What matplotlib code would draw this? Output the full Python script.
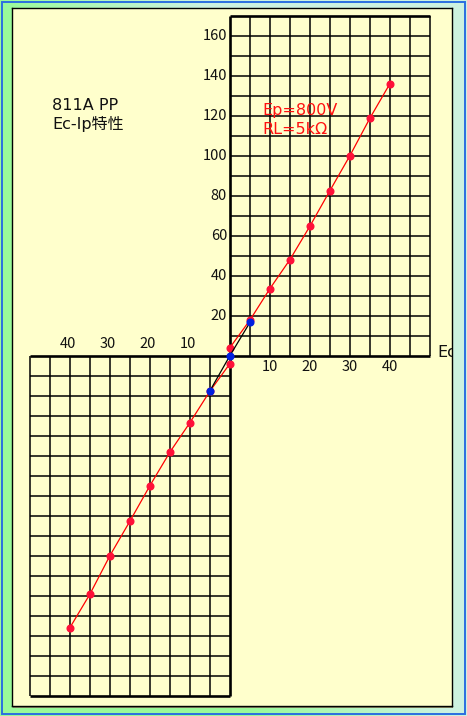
import numpy as np
import matplotlib
matplotlib.use("Agg")
import matplotlib.pyplot as plt
from matplotlib.patches import Rectangle

plt.rcParams['font.family'] = ['Noto Sans CJK JP', 'DejaVu Sans']

# ---- data ----
ec_red = [-40, -35, -30, -25, -20, -15, -10, -5, 0, 0, 5, 10, 15, 20, 25, 30, 35, 40]
ip_red = [-136, -119.25, -100, -82.75, -65, -48.25, -33.5, -17.75, -4,
          4, 17.75, 33.5, 48, 64.75, 82.5, 100, 118.75, 136]
ec_blue = [-5, 0, 5]
ip_blue = [-17.6, 0, 16.6]
y_ticks = [20, 40, 60, 80, 100, 120, 140, 160]
x_ticks_pos = [10, 20, 30, 40]
x_ticks_neg = [-40, -30, -20, -10]
title_lines = ["811A PP", "Ec-Ip特性"]
cond_lines = ["Ep=800V", "RL=5kΩ"]

W, H = 467, 716
fig = plt.figure(figsize=(W / 100, H / 100), dpi=100)

# background gradient
bg = fig.add_axes([0, 0, 1, 1])
bg.set_axis_off()
xx, yy = np.meshgrid(np.arange(W), np.arange(H))
s = np.clip((xx - 0.35 * yy) / 200.0, 0, 1)
c0 = np.array([0.60, 0.98, 0.60])
c1 = np.array([0.80, 0.95, 0.88])
img = c0[None, None, :] * (1 - s[..., None]) + c1[None, None, :] * s[..., None]
bg.imshow(img, extent=[0, W, H, 0], aspect='auto')
bg.set_xlim(0, W)
bg.set_ylim(H, 0)
bg.add_patch(Rectangle((1.5, 1.5), W - 3.5, H - 3.5, fill=False,
                       edgecolor='#2a6fe0', linewidth=1.4))
bg.add_patch(Rectangle((13, 707), 440, 1.2, color='#888866', lw=0))

# main panel
ax = fig.add_axes([12 / W, 1 - 706 / H, 440 / W, 698 / H])
ax.set_facecolor('#FFFFCC')
ax.set_xlim(-54.5, 55.5)
ax.set_ylim(-175.25, 173.75)
ax.set_xticks([])
ax.set_yticks([])
for sp in ax.spines.values():
    sp.set_linewidth(1.0)
    sp.set_color('black')

glw = 1.1
tlw = 1.9
# upper-right grid
ax.vlines(np.arange(5, 51, 5), 0, 170, colors='black', lw=glw, zorder=1)
ax.hlines(np.arange(10, 170, 10), 0, 50, colors='black', lw=glw, zorder=1)
# lower-left grid
ax.vlines(np.arange(-50, 0, 5), -170, 0, colors='black', lw=glw, zorder=1)
ax.hlines(np.arange(-160, 0, 10), -50, 0, colors='black', lw=glw, zorder=1)
# thick axis lines
ax.vlines([0], -170, 170, colors='black', lw=tlw, zorder=2)
ax.hlines([0], -50, 50, colors='black', lw=tlw, zorder=2)
ax.hlines([170], 0, 50, colors='black', lw=tlw, zorder=2)
ax.hlines([-170], -50, 0, colors='black', lw=tlw, zorder=2)

# data
ax.plot(ec_red, ip_red, color='#FF0000', lw=0.9, marker='o', ms=4.8,
        mfc='#FF1038', mec='#FF1038', zorder=3)
ax.plot(ec_blue, ip_blue, color='black', lw=0.9, marker='o', ms=4.8,
        mfc='#0020E0', mec='#0020E0', zorder=4)

fs = 10.5
for v in y_ticks:
    ax.annotate(str(v), xy=(0, v), xytext=(-3, 0), textcoords='offset pixels',
                ha='right', va='center', fontsize=fs, color='#111111')
for v in x_ticks_pos:
    ax.annotate(str(v), xy=(v, 0), xytext=(0, -4), textcoords='offset pixels',
                ha='center', va='top', fontsize=fs, color='#111111')
for v in x_ticks_neg:
    ax.annotate(str(-v), xy=(v, 0), xytext=(-2, 5), textcoords='offset pixels',
                ha='center', va='bottom', fontsize=fs, color='#111111')

lat = ['DejaVu Sans', 'Noto Sans CJK JP']
ax.text(51.9, -0.5, "Ec", ha='left', va='baseline', fontsize=11.5, color='#111111',
        family=lat, clip_on=True)

ax.text(-44.5, 122.75, title_lines[0], ha='left', va='baseline', fontsize=11.5,
        color='#111111', family=lat)
ax.text(-44.5, 113.0, title_lines[1], ha='left', va='baseline', fontsize=11.5,
        color='#111111', family=lat)
ax.text(8, 120.25, cond_lines[0], ha='left', va='baseline', fontsize=11.5,
        color='#FF1010', family=lat)
ax.text(8, 111.0, cond_lines[1], ha='left', va='baseline', fontsize=11.5,
        color='#FF1010', family=lat)

fig.savefig("out.png", dpi=100)
